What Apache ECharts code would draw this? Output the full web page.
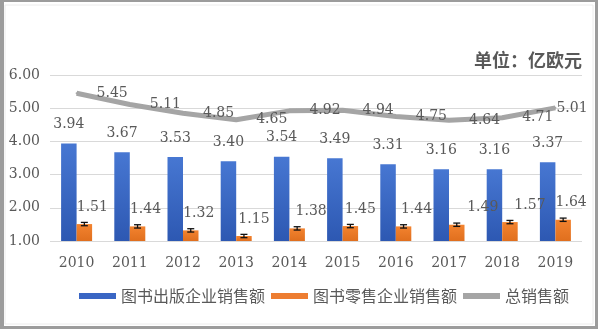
<!DOCTYPE html>
<html>
<head>
<meta charset="utf-8">
<script src="https://cdn.jsdelivr.net/npm/echarts@6/dist/echarts.min.js"></script>
<style>
html,body{margin:0;padding:0;background:#fff;}
#c{width:598px;height:329px;}
</style>
</head>
<body>
<div id="c"></div>
<script>
const years = ['2010','2011','2012','2013','2014','2015','2016','2017','2018','2019'];
const publisherSales = [3.94,3.67,3.53,3.40,3.54,3.49,3.31,3.16,3.16,3.37];
const retailSales = [1.51,1.44,1.32,1.15,1.38,1.45,1.44,1.49,1.57,1.64];
const totalSales = [5.45,5.11,4.85,4.65,4.92,4.94,4.75,4.64,4.71,5.01];
const retailError = [0.05,0.05,0.05,0.05,0.05,0.05,0.05,0.05,0.05,0.05];
const yTicks = [1,2,3,4,5,6];

const seriesNames = ['图书出版企业销售额','图书零售企业销售额','总销售额'];
const unitTitle = '单位：亿欧元';

// label placement tweaks (style only)
const retailLabelDx = [8,8,8,10,14,10,13,26,20,8];

const numFont = 'DejaVu Serif, Noto Sans CJK SC';
const cjkFont = 'Noto Sans CJK SC';
const textColor = '#595959';
const BAR_W = 15.5;

const chart = echarts.init(document.getElementById('c'), null, {renderer:'canvas'});

const option = {
  animation: false,
  backgroundColor: '#fff',
  title: {
    text: unitTitle,
    right: 11, top: 46,
    textStyle: {fontFamily: cjkFont, fontSize: 18, fontWeight: 'bold', color: '#595959'}
  },
  grid: {left: 50, right: 16, top: 75, bottom: 88},
  legend: {
    left: 74, top: 283,
    itemWidth: 37, itemHeight: 6, itemGap: 6,
    icon: 'rect',
    textStyle: {fontFamily: cjkFont, fontSize: 16, color: textColor},
    data: [
      {name: seriesNames[0], itemStyle: {color: '#3A66C4'}},
      {name: seriesNames[1], itemStyle: {color: '#ED7D31'}},
      {name: seriesNames[2], itemStyle: {color: '#A5A5A5'}}
    ]
  },
  xAxis: {
    type: 'category',
    data: years,
    axisLine: {show: false},
    axisTick: {show: false},
    axisLabel: {fontFamily: numFont, fontSize: 14, color: textColor, margin: 15}
  },
  yAxis: {
    type: 'value',
    min: yTicks[0], max: yTicks[yTicks.length-1], interval: 1,
    axisLine: {show: false},
    axisTick: {show: false},
    splitLine: {lineStyle: {color: '#d9d9d9', width: 1}},
    axisLabel: {fontFamily: numFont, fontSize: 14, color: textColor, margin: 10,
      formatter: v => v.toFixed(2)}
  },
  series: [
    {
      name: seriesNames[0],
      type: 'bar',
      barWidth: BAR_W,
      barGap: '0%',
      data: publisherSales,
      itemStyle: {color: new echarts.graphic.LinearGradient(0,0,0,1,[
        {offset:0,color:'#4777D2'},{offset:1,color:'#2D58B2'}])},
      label: {show: true, position: 'top', distance: 12,
        fontFamily: numFont, fontSize: 14, color: textColor,
        formatter: p => p.value.toFixed(2)},
      z: 2
    },
    {
      name: seriesNames[1],
      type: 'bar',
      barWidth: BAR_W,
      barGap: '0%',
      data: retailSales.map((v,i) => ({
        value: v,
        label: {offset: [retailLabelDx[i], 0]}
      })),
      itemStyle: {color: new echarts.graphic.LinearGradient(0,0,0,1,[
        {offset:0,color:'#F3832F'},{offset:1,color:'#E06F1E'}])},
      label: {show: true, position: 'top', distance: 10,
        fontFamily: numFont, fontSize: 14, color: textColor,
        formatter: p => p.value.toFixed(2)},
      z: 2
    },
    {
      name: 'err',
      type: 'custom',
      data: retailSales.map((v,i) => [i, v, retailError[i]]),
      renderItem: function (params, api) {
        const i = api.value(0), v = api.value(1), e = api.value(2);
        const c = api.coord([i, v]);
        const hi = api.coord([i, v + e]);
        const lo = api.coord([i, v - e]);
        const x = c[0] + BAR_W / 2;
        const cw = 3.5;
        const st = {stroke: '#111', lineWidth: 1.3};
        return {
          type: 'group',
          children: [
            {type:'line', shape:{x1:x,y1:hi[1],x2:x,y2:lo[1]}, style:st},
            {type:'line', shape:{x1:x-cw,y1:hi[1],x2:x+cw,y2:hi[1]}, style:st},
            {type:'line', shape:{x1:x-cw,y1:lo[1],x2:x+cw,y2:lo[1]}, style:st}
          ]
        };
      },
      z: 5,
      silent: true
    },
    {
      name: seriesNames[2],
      type: 'line',
      data: totalSales.map((v,i) => i === totalSales.length-1
        ? {value: v, label: {distance: 0}}
        : v),
      symbol: 'circle',
      symbolSize: 2,
      showSymbol: true,
      lineStyle: {color: '#A5A5A5', width: 5},
      itemStyle: {color: '#A5A5A5'},
      label: {show: true, position: 'right', distance: 19,
        fontFamily: numFont, fontSize: 14, color: textColor,
        formatter: p => p.value.toFixed(2)},
      z: 3
    }
  ],
  graphic: [
    {type:'rect', shape:{x:5,y:5,width:588,height:319}, style:{fill:'none', stroke:'#ececec', lineWidth:1}, silent:true},
    {type:'rect', shape:{x:0,y:0,width:598,height:2}, style:{fill:'#9c9c9c'}, silent:true},
    {type:'rect', shape:{x:0,y:0,width:4,height:329}, style:{fill:'#9c9c9c'}, silent:true},
    {type:'rect', shape:{x:595,y:0,width:3,height:329}, style:{fill:'#9c9c9c'}, silent:true},
    {type:'rect', shape:{x:0,y:326,width:598,height:3}, style:{fill:'#9c9c9c'}, silent:true}
  ]
};
chart.setOption(option);
</script>
</body>
</html>
